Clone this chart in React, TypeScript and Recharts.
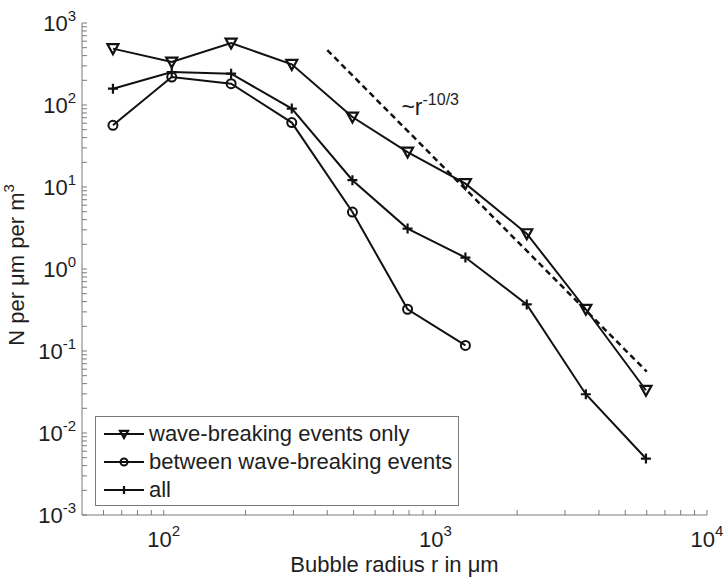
import React from 'react';
import { LineChart, Line, XAxis, YAxis, Legend, ReferenceDot, Label } from 'recharts';

// bubble radius bins (µm), shared by all three series
const radius = [65, 107, 177, 296, 495, 790, 1290, 2170, 3580, 5960];
const waveBreaking = [487, 334, 570, 313, 71.4, 26.7, 11.0, 2.7, 0.323, 0.0332];
const betweenEvents = [56.5, 219, 182, 61, 4.95, 0.323, 0.117];
const allEvents = [158, 252, 241, 90.4, 12.1, 3.11, 1.38, 0.37, 0.0297, 0.00488];

// ~r^(-10/3) guide line, end points
const slopeRadius = [400, 6000];
const slopeValues = [467, 0.0561];

const xDecades = [10, 100, 1000, 10000];
const yDecades = [0.001, 0.01, 0.1, 1, 10, 100, 1000];
const minorSteps = [2, 3, 4, 5, 6, 7, 8, 9];
const xDomain = [50, 10000];
const yDomain = [0.001, 1000];

const legendNames = ['wave-breaking events only', 'between wave-breaking events', 'all'];

const FONT = '"Liberation Sans", Arial, Helvetica, sans-serif';
const INK = '#111';
const TEXT = '#1e1e1e';
const AXIS = '#7a7a7a';
const TICK = 5;

const isDecade = (v: number) => Math.abs(Math.log10(v) - Math.round(Math.log10(v))) < 1e-6;

const logTicks = (decades: number[], lo: number, hi: number) => {
  const out: number[] = [];
  decades.forEach((d) => {
    if (d >= lo && d <= hi) out.push(d);
    minorSteps.forEach((s) => {
      const v = d * s;
      if (v > lo && v < hi) out.push(v);
    });
  });
  return out.sort((a, b) => a - b);
};

const xTicks = logTicks(xDecades, xDomain[0], xDomain[1]);
const yTicks = logTicks(yDecades, yDomain[0], yDomain[1]);

const toPoints = (xs: number[], ys: number[]) => ys.map((n, i) => ({ r: xs[i], n }));

const waveData = toPoints(radius, waveBreaking);
const betweenData = toPoints(radius, betweenEvents);
const allData = toPoints(radius, allEvents);
const slopeData = toPoints(slopeRadius, slopeValues);

const PowerLabel = ({ base, exp, x, y, anchor, dy }: any) => (
  <text x={x} y={y} textAnchor={anchor} fill={TEXT} fontFamily={FONT} fontSize={22}>
    {base}
    <tspan dy={dy} fontSize={15}>{exp}</tspan>
  </text>
);

// ticks point inward, MATLAB style
const BottomTick = ({ x, y, payload }: any) => {
  const v = payload.value;
  return (
    <g>
      <line x1={x} x2={x} y1={y} y2={y - TICK} stroke={AXIS} />
      {isDecade(v) && (
        <PowerLabel base="10" exp={Math.round(Math.log10(v))} x={x} y={y + 32} anchor="middle" dy={-11} />
      )}
    </g>
  );
};

const TopTick = ({ x, y }: any) => <line x1={x} x2={x} y1={y} y2={y + TICK} stroke={AXIS} />;

const LeftTick = ({ x, y, payload }: any) => {
  const v = payload.value;
  return (
    <g>
      <line x1={x} x2={x + TICK} y1={y} y2={y} stroke={AXIS} />
      {isDecade(v) && (
        <PowerLabel base="10" exp={Math.round(Math.log10(v))} x={x - 6} y={y + 8} anchor="end" dy={-10} />
      )}
    </g>
  );
};

const RightTick = ({ x, y }: any) => <line x1={x} x2={x - TICK} y1={y} y2={y} stroke={AXIS} />;

const Triangle = ({ cx, cy, s = 5.5 }: any) => (
  <path
    d={`M${cx - s},${cy - s * 0.8} L${cx + s},${cy - s * 0.8} L${cx},${cy + s} Z`}
    fill="none"
    stroke={INK}
    strokeWidth={2.2}
    strokeLinejoin="miter"
  />
);

const Circle = ({ cx, cy, s = 4.5 }: any) => (
  <circle cx={cx} cy={cy} r={s} fill="none" stroke={INK} strokeWidth={2} />
);

const Plus = ({ cx, cy, s = 5 }: any) => (
  <path d={`M${cx - s},${cy} H${cx + s} M${cx},${cy - s} V${cy + s}`} stroke={INK} strokeWidth={2.2} />
);

const markers = [Triangle, Circle, Plus];

const dotOf = (M: any) => (p: any) => <M key={p.index} cx={p.cx} cy={p.cy} />;

const XTitle = ({ viewBox }: any) => (
  <text
    x={viewBox.x + viewBox.width / 2}
    y={viewBox.y + 57}
    textAnchor="middle"
    fill={TEXT}
    fontFamily={FONT}
    fontSize={22}
  >
    Bubble radius r in μm
  </text>
);

const YTitle = ({ viewBox }: any) => {
  const cx = viewBox.x + 23.5;
  const cy = viewBox.y + viewBox.height / 2 - 4;
  return (
    <text
      x={cx}
      y={cy}
      transform={`rotate(-90 ${cx} ${cy})`}
      textAnchor="middle"
      fill={TEXT}
      fontFamily={FONT}
      fontSize={22}
    >
      N per μm per m
      <tspan dy={-10} fontSize={15}>3</tspan>
    </text>
  );
};

const SlopeNote = ({ cx, cy }: any) => (
  <text x={cx} y={cy} fill={TEXT} fontFamily={FONT} fontSize={23}>
    ~r
    <tspan dy={-10} fontSize={16}>-10/3</tspan>
  </text>
);

const LegendBox = () => (
  <div
    style={{
      width: 364,
      height: 90,
      boxSizing: 'border-box',
      border: `1px solid ${AXIS}`,
      background: '#fff',
      paddingTop: 3,
      fontFamily: FONT,
      fontSize: 22,
      color: TEXT,
    }}
  >
    {legendNames.map((name, i) => {
      const M = markers[i];
      return (
        <div key={name} style={{ display: 'flex', alignItems: 'center', height: 28 }}>
          <svg width={53} height={28} style={{ flex: 'none' }}>
            <line x1={8} x2={48} y1={14} y2={14} stroke={INK} strokeWidth={2} />
            <M cx={28} cy={14} s={i === 1 ? 3.5 : 4} />
          </svg>
          <span style={{ lineHeight: '28px', whiteSpace: 'nowrap' }}>{name}</span>
        </div>
      );
    })}
  </div>
);

export default function App() {
  return (
    <div style={{ position: 'absolute', left: 0, top: 0, width: 723, height: 579, background: '#fff' }}>
      <LineChart width={723} height={579} margin={{ top: 23, right: 16, bottom: 24, left: 0 }}>
        <XAxis
          xAxisId="b"
          type="number"
          dataKey="r"
          scale="log"
          domain={xDomain}
          allowDataOverflow
          ticks={xTicks}
          interval={0}
          tickSize={0}
          tickMargin={0}
          tickLine={false}
          tick={BottomTick}
          axisLine={{ stroke: AXIS }}
          height={40}
        >
          <Label content={XTitle} />
        </XAxis>
        <XAxis
          xAxisId="t"
          orientation="top"
          type="number"
          dataKey="r"
          scale="log"
          domain={xDomain}
          allowDataOverflow
          ticks={xTicks}
          interval={0}
          tickSize={0}
          tickMargin={0}
          tickLine={false}
          tick={TopTick}
          axisLine={{ stroke: AXIS }}
          height={0}
        />
        <YAxis
          yAxisId="l"
          type="number"
          scale="log"
          domain={yDomain}
          allowDataOverflow
          ticks={yTicks}
          interval={0}
          tickSize={0}
          tickMargin={0}
          tickLine={false}
          tick={LeftTick}
          axisLine={{ stroke: AXIS }}
          width={82}
        >
          <Label content={YTitle} />
        </YAxis>
        <YAxis
          yAxisId="r"
          orientation="right"
          type="number"
          scale="log"
          domain={yDomain}
          allowDataOverflow
          ticks={yTicks}
          interval={0}
          tickSize={0}
          tickMargin={0}
          tickLine={false}
          tick={RightTick}
          axisLine={{ stroke: AXIS }}
          width={0}
        />
        <Line
          xAxisId="b"
          yAxisId="l"
          data={slopeData}
          dataKey="n"
          stroke={INK}
          strokeWidth={2.5}
          strokeDasharray="6 4"
          dot={false}
          legendType="none"
          isAnimationActive={false}
        />
        <Line
          xAxisId="b"
          yAxisId="l"
          data={waveData}
          dataKey="n"
          name={legendNames[0]}
          stroke={INK}
          strokeWidth={2}
          dot={dotOf(Triangle)}
          isAnimationActive={false}
        />
        <Line
          xAxisId="b"
          yAxisId="l"
          data={betweenData}
          dataKey="n"
          name={legendNames[1]}
          stroke={INK}
          strokeWidth={2}
          dot={dotOf(Circle)}
          isAnimationActive={false}
        />
        <Line
          xAxisId="b"
          yAxisId="l"
          data={allData}
          dataKey="n"
          name={legendNames[2]}
          stroke={INK}
          strokeWidth={2}
          dot={dotOf(Plus)}
          isAnimationActive={false}
        />
        <ReferenceDot xAxisId="b" yAxisId="l" x={750} y={75} shape={SlopeNote} />
        <Legend
          layout="vertical"
          align="center"
          verticalAlign="middle"
          content={LegendBox}
          wrapperStyle={{ left: 95, top: 416, width: 364, height: 90 }}
        />
      </LineChart>
    </div>
  );
}
